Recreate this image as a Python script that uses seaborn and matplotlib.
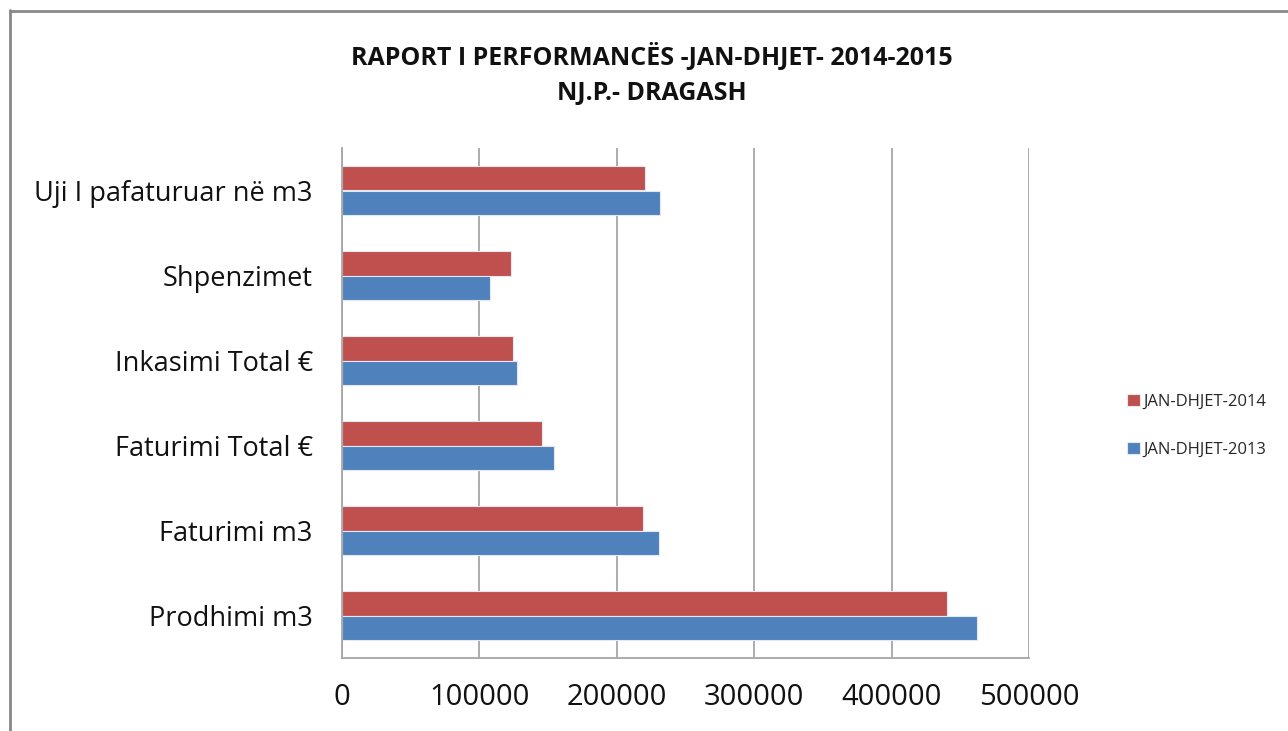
import matplotlib
matplotlib.use("Agg")
import matplotlib.pyplot as plt
import seaborn as sns
import pandas as pd
from matplotlib.lines import Line2D

categories = ["Uji I pafaturuar në m3", "Shpenzimet", "Inkasimi Total €",
              "Faturimi Total €", "Faturimi m3", "Prodhimi m3"]
series_names = ["JAN-DHJET-2014", "JAN-DHJET-2013"]
values_2014 = [220400, 123100, 124300, 145300, 219200, 440100]
values_2013 = [231600, 107500, 127700, 154200, 230400, 462300]
x_ticks = [0, 100000, 200000, 300000, 400000, 500000]

df = pd.DataFrame({
    "cat": categories * 2,
    "series": [series_names[0]] * 6 + [series_names[1]] * 6,
    "value": values_2014 + values_2013,
})

sns.set_theme(style="white")
plt.rcParams["font.family"] = ["Open Sans", "DejaVu Sans"]

W, H = 1288, 731
fig = plt.figure(figsize=(W / 100, H / 100), dpi=100)
ax = fig.add_axes([342/W, 1-658/H, (1029-342)/W, (658-148)/H])

sns.barplot(data=df, y="cat", x="value", hue="series", order=categories,
            hue_order=series_names, palette=["#C0504D", "#4F81BD"],
            saturation=1, orient="h", width=0.57, ax=ax,
            edgecolor="#e3e9f2", linewidth=0.8, legend=True)

ax.set_xlim(0, 500000)
ax.set_xticks(x_ticks)
ax.set_xticklabels([str(t) for t in x_ticks], fontsize=21)
ax.tick_params(axis="y", labelsize=19.5, pad=21, length=0, labelcolor="#111111")
ax.tick_params(axis="x", pad=18, length=0, labelcolor="#111111")
ax.set_xlabel("")
ax.set_ylabel("")
ax.xaxis.grid(True, color="#a6a6a6", linewidth=1.3)
ax.set_axisbelow(True)
for s in ["top", "right"]:
    ax.spines[s].set_visible(False)
for s in ["left", "bottom"]:
    ax.spines[s].set_color("#a6a6a6")
    ax.spines[s].set_linewidth(1.3)

ax.legend(loc="center left", bbox_to_anchor=(1112/W, 1-426/H),
          bbox_transform=fig.transFigure, frameon=False, fontsize=12,
          handlelength=0.75, handleheight=0.75, handletextpad=0.25,
          labelspacing=1.9)

fig.text(652/W, 1-57/H, "RAPORT I PERFORMANCËS -JAN-DHJET- 2014-2015",
         ha="center", va="center", fontsize=18, fontweight="bold",
         color="#111111")
fig.text(652/W, 1-93/H, "NJ.P.- DRAGASH",
         ha="center", va="center", fontsize=18, fontweight="bold",
         color="#111111")

fig.lines.append(Line2D([10/W, 10/W], [0, 1-10/H], transform=fig.transFigure,
                        color="#888888", linewidth=2))
fig.lines.append(Line2D([10/W, 1], [1-11/H, 1-11/H], transform=fig.transFigure,
                        color="#888888", linewidth=2))

fig.savefig("out.png", dpi=100, facecolor="white")
